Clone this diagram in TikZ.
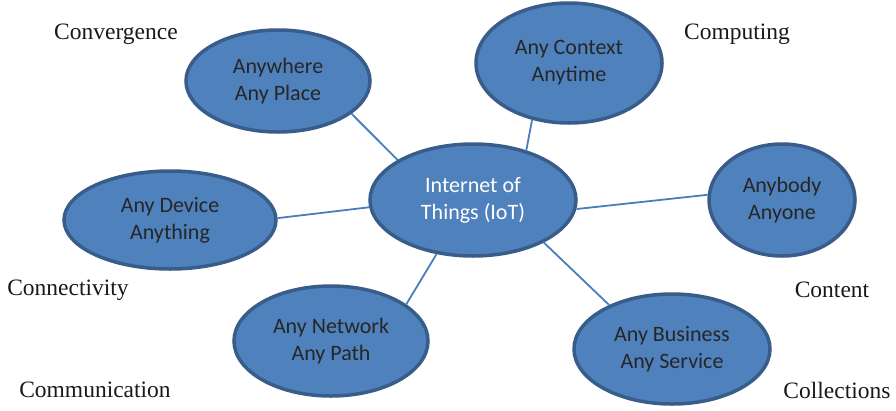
\documentclass[tikz,border=0pt]{standalone}
\usepackage{fontspec}
\usetikzlibrary{shapes.geometric}
\setmainfont{Liberation Serif}
\newfontfamily\bubblefont{Carlito}
\definecolor{bubblefill}{HTML}{4F81BD}
\definecolor{bubbleedge}{HTML}{385D8A}
\definecolor{linkblue}{HTML}{4A7EBB}
\begin{document}
\begin{tikzpicture}[x=1pt,y=-1pt,
    bubble/.style = {
        ellipse,
        fill = bubblefill,
        draw = bubbleedge,
        line width = 3.5pt,
        align = center,
        inner sep = 0pt,
        font = \bubblefont\fontsize{22}{27}\selectfont,
        text = black!85
    },
    link/.style = {draw = linkblue, line width = 1.8pt},
    tag/.style = {font = \fontsize{23.5}{28}\selectfont, text = black!90}
]
            \useasboundingbox (0,0) rectangle (896,410);
            \node[bubble, minimum width=184, minimum height=102] (place) at (278,81) {Anywhere\\Any Place};
            \node[bubble, minimum width=186, minimum height=120] (context) at (569,63) {Any Context\\Anytime};
            \node[bubble, minimum width=206, minimum height=112, text=white] (iot) at (473,200) {Internet of\\Things (IoT)};
            \node[bubble, minimum width=212, minimum height=98] (device) at (170,220) {Any Device\\Anything};
            \node[bubble, minimum width=146, minimum height=112] (anybody) at (782,200) {Anybody\\Anyone};
            \node[bubble, minimum width=194, minimum height=110] (network) at (331,341) {Any Network\\Any Path};
            \node[bubble, minimum width=196, minimum height=110] (business) at (672,349) {Any Business\\Any Service};
            \draw[link] (place.-24) -- (iot.152);
            \draw[link] (context.-123) -- (iot.43);
            \draw[link] (device.1) -- (iot.184);
            \draw[link] (iot.-5) -- (anybody.176);
            \draw[link] (iot.-124) -- (network.26);
            \draw[link] (iot.-31) -- (business.145);
            \node[tag] (convergence) at (116,34) {Convergence};
            \node[tag] (computing) at (737,34) {Computing};
            \node[tag] (connectivity) at (68,290) {Connectivity};
            \node[tag] (content) at (832,290) {Content};
            \node[tag] (communication) at (95,390) {Communication};
            \node[tag] (collections) at (837,390) {Collections};
        \end{tikzpicture}
\end{document}
